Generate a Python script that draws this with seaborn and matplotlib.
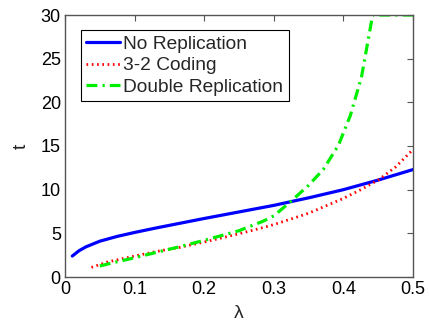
import matplotlib
matplotlib.use("Agg")
import matplotlib.pyplot as plt
import seaborn as sns
import pandas as pd

# Completion time t versus arrival rate lambda for three storage schemes
lam_none = [0.0105, 0.02, 0.03, 0.05, 0.075, 0.1, 0.13, 0.165, 0.2, 0.25, 0.3, 0.323, 0.352, 0.4, 0.45, 0.5]
t_none = [2.4, 3.0, 3.45, 4.1, 4.65, 5.1, 5.6, 6.15, 6.7, 7.45, 8.2, 8.6, 9.1, 10.0, 11.1, 12.3]

lam_coding = [0.038, 0.06, 0.1, 0.13, 0.165, 0.2, 0.242, 0.27, 0.3, 0.35, 0.4, 0.425, 0.45, 0.475, 0.5]
t_coding = [1.1, 1.7, 2.4, 2.9, 3.4, 4.0, 4.8, 5.35, 6.0, 7.3, 9.0, 10.0, 11.1, 12.6, 14.6]

lam_double = [0.05, 0.075, 0.1, 0.13, 0.165, 0.2, 0.25, 0.285, 0.3, 0.323, 0.35, 0.371, 0.393, 0.41, 0.426, 0.442, 0.5]
t_double = [1.26, 1.75, 2.2, 2.8, 3.47, 4.2, 5.3, 6.4, 7.0, 8.55, 10.5, 12.3, 15.1, 18.5, 22.9, 30.0, 30.0]

series_labels = ["No Replication", "3-2 Coding", "Double Replication"]
x_ticks = [0, 0.1, 0.2, 0.3, 0.4, 0.5]
x_tick_labels = ["0", "0.1", "0.2", "0.3", "0.4", "0.5"]
y_ticks = [0, 5, 10, 15, 20, 25, 30]

sns.set_style("white")
plt.rcParams["font.family"] = ["Liberation Sans", "DejaVu Sans"]
plt.rcParams["font.size"] = 13

fig = plt.figure(figsize=(4.29, 3.25), dpi=100)
ax = fig.add_axes([65 / 429, 48 / 325, 348 / 429, 262 / 325])

df_none = pd.DataFrame({"lam": lam_none, "t": t_none})
df_coding = pd.DataFrame({"lam": lam_coding, "t": t_coding})
df_double = pd.DataFrame({"lam": lam_double, "t": t_double})

sns.lineplot(data=df_none, x="lam", y="t", ax=ax, color="#0000ff", lw=2.3,
             linestyle="-", label=series_labels[0])
sns.lineplot(data=df_coding, x="lam", y="t", ax=ax, color="#ff0000", lw=2.0,
             linestyle=(0, (0.6, 1.3)), label=series_labels[1])
sns.lineplot(data=df_double, x="lam", y="t", ax=ax, color="#00ee00", lw=2.3,
             linestyle=(0, (3.4, 1.6, 0.7, 1.6)), label=series_labels[2])

ax.set_xlim(0, 0.5)
ax.set_ylim(0, 30)
ax.set_xticks(x_ticks)
ax.set_xticklabels(x_tick_labels)
ax.set_yticks(y_ticks)
ax.set_xlabel("λ", fontsize=14, labelpad=5)
ax.set_ylabel("t", fontsize=14, labelpad=8, rotation=90)

for s in ax.spines.values():
    s.set_color("#555555")
    s.set_linewidth(1.0)
ax.tick_params(direction="in", length=4, width=0.8, color="#555555",
               top=True, right=True, labelsize=13, pad=3, labelcolor="black")

leg = ax.legend(loc="upper left", bbox_to_anchor=(0.045, 0.943), borderaxespad=0,
                fontsize=13.8, frameon=True, fancybox=False, handlelength=1.75,
                handletextpad=0.15, labelspacing=0.2, borderpad=0.3)
leg.get_frame().set_edgecolor("black")
leg.get_frame().set_linewidth(0.8)
leg.get_frame().set_alpha(1)

fig.savefig("out.png", dpi=100)
